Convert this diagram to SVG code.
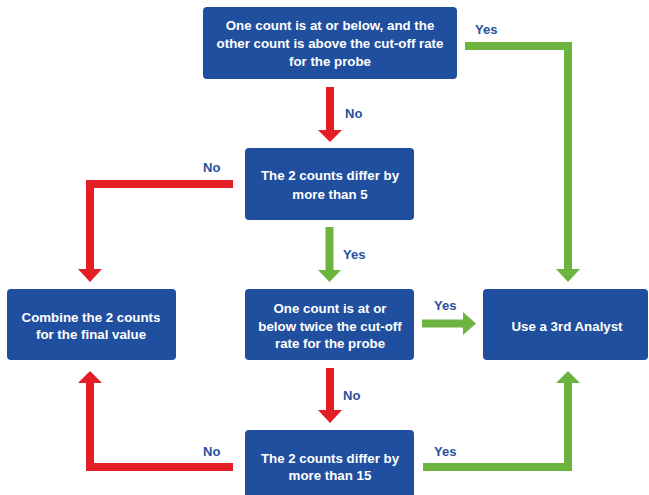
<svg xmlns="http://www.w3.org/2000/svg" width="649" height="495" viewBox="0 0 649 495">
<style>
.box{fill:#1f4f9e;}
.bt{font-family:"Liberation Sans",Arial,sans-serif;font-weight:bold;font-size:13.3px;fill:#ffffff;text-anchor:middle;}
.lbl{font-family:"Liberation Sans",Arial,sans-serif;font-weight:bold;font-size:13px;fill:#2a4f9e;}
.red{stroke:#e41e26;stroke-width:8;fill:none;stroke-linejoin:miter;}
.green{stroke:#6db33f;stroke-width:8;fill:none;stroke-linejoin:miter;}
.redh{fill:#e41e26;}
.greenh{fill:#6db33f;}
</style>
<rect width="649" height="495" fill="#ffffff"/>
<g id="connectors">
  <path class="red" d="M330,87 V131"/>
  <polygon class="redh" points="318,130 342,130 330,142"/>
  <path class="red" d="M233,184 H90 V270"/>
  <polygon class="redh" points="78,269 102,269 90,282"/>
  <path class="green" d="M329.5,227 V271"/>
  <polygon class="greenh" points="318,270 341,270 329.5,282"/>
  <path class="green" d="M422,323.5 H464"/>
  <polygon class="greenh" points="463,312 463,335 476,323.5"/>
  <path class="red" d="M330,368 V411"/>
  <polygon class="redh" points="318,410 342,410 330,423"/>
  <path class="red" d="M233,467 H90 V382"/>
  <polygon class="redh" points="78,383 102,383 90,371"/>
  <path class="green" d="M423,467 H568 V382"/>
  <polygon class="greenh" points="556,383 580,383 568,371"/>
  <path class="green" d="M465,46 H568 V270"/>
  <polygon class="greenh" points="556,269 580,269 568,282"/>
  <text class="lbl" x="345" y="118">No</text>
  <text class="lbl" x="203" y="172">No</text>
  <text class="lbl" x="343" y="259">Yes</text>
  <text class="lbl" x="434" y="310">Yes</text>
  <text class="lbl" x="343" y="400">No</text>
  <text class="lbl" x="203" y="456">No</text>
  <text class="lbl" x="434" y="456">Yes</text>
  <text class="lbl" x="475" y="34">Yes</text>
</g>
<g id="node-top">
  <rect class="box" x="203" y="7" width="254" height="72" rx="4"/>
  <text class="bt" x="330" y="30">One count is at or below, and the</text>
  <text class="bt" x="330" y="48">other count is above the cut-off rate</text>
  <text class="bt" x="330" y="66">for the probe</text>
</g>
<g id="node-differ5">
  <rect class="box" x="245" y="148" width="169" height="72" rx="4"/>
  <text class="bt" x="330" y="180">The 2 counts differ by</text>
  <text class="bt" x="330" y="199">more than 5</text>
</g>
<g id="node-combine">
  <rect class="box" x="7" y="289" width="169" height="71" rx="4"/>
  <text class="bt" x="91" y="322">Combine the 2 counts</text>
  <text class="bt" x="91" y="339">for the final value</text>
</g>
<g id="node-twice">
  <rect class="box" x="245" y="289" width="169" height="71" rx="4"/>
  <text class="bt" x="330" y="313">One count is at or</text>
  <text class="bt" x="330" y="331">below twice the cut-off</text>
  <text class="bt" x="330" y="348">rate for the probe</text>
</g>
<g id="node-analyst">
  <rect class="box" x="483" y="289" width="165" height="71" rx="4"/>
  <text class="bt" x="567" y="331">Use a 3rd Analyst</text>
</g>
<g id="node-differ15">
  <rect class="box" x="245" y="430" width="169" height="72" rx="4"/>
  <text class="bt" x="330" y="463">The 2 counts differ by</text>
  <text class="bt" x="330" y="480">more than 15</text>
</g>
</svg>
